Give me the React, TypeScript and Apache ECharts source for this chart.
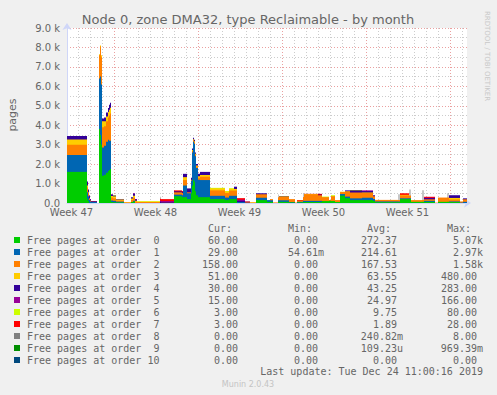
import React, { useEffect, useRef } from "react";
import * as echarts from "echarts";

// hours since the left edge of the graph (Thu Nov 21 03:00); each value holds until the next break
const hours = [0, 40, 42, 44, 46, 48, 60, 64, 66, 68, 70, 74, 78, 82, 84, 86, 88, 92, 98, 114, 128, 132, 136, 140, 186, 188, 214, 230, 232, 240, 248, 250, 252, 254, 256, 258, 262, 266, 286, 316, 324, 334, 340, 356, 366, 378, 400, 406, 412, 422, 424, 444, 456, 460, 472, 474, 502, 510, 524, 528, 536, 546, 556, 566, 590, 612, 616, 662, 666, 684, 688, 710, 714, 736, 742, 760, 764, 786, 792, 800];

const order0 = [1600, 200, 100, 0, 0, 0, 0, 3800, 3500, 3000, 1400, 1450, 1550, 1650, 1700, 1750, 50, 40, 30, 0, 50, 80, 0, 0, 0, 0, 350, 300, 300, 200, 500, 900, 1200, 1100, 600, 400, 300, 300, 200, 150, 200, 200, 0, 0, 0, 150, 60, 60, 0, 60, 60, 30, 0, 30, 50, 50, 50, 100, 120, 100, 50, 380, 250, 150, 150, 100, 40, 40, 200, 200, 60, 60, 60, 0, 60, 60, 50, 0, 0, 0];
const order1 = [870, 350, 250, 150, 80, 60, 0, 2600, 3000, 3100, 1450, 1500, 1600, 1600, 1500, 1450, 80, 70, 40, 0, 0, 40, 0, 0, 0, 0, 80, 100, 600, 300, 650, 1700, 1950, 1950, 1800, 1400, 900, 880, 170, 130, 170, 170, 50, 0, 0, 120, 90, 80, 0, 80, 80, 20, 0, 30, 60, 60, 60, 0, 0, 0, 0, 80, 80, 90, 120, 100, 40, 40, 40, 40, 0, 0, 50, 0, 0, 0, 30, 20, 60, 60];
const order2 = [520, 250, 150, 100, 50, 0, 0, 1200, 1550, 1400, 1050, 1000, 1050, 1150, 1300, 1400, 150, 130, 60, 30, 100, 150, 80, 50, 0, 10, 120, 120, 280, 50, 50, 80, 80, 80, 80, 80, 100, 170, 280, 230, 270, 270, 0, 30, 20, 180, 0, 60, 30, 150, 170, 150, 20, 60, 200, 320, 290, 200, 30, 250, 100, 100, 250, 300, 250, 150, 80, 80, 150, 150, 90, 90, 80, 20, 220, 220, 100, 60, 130, 130];
const order3 = [280, 100, 50, 0, 0, 0, 0, 50, 50, 100, 300, 250, 250, 280, 300, 300, 80, 100, 50, 10, 80, 100, 40, 20, 0, 0, 0, 0, 150, 0, 0, 50, 50, 50, 50, 50, 80, 90, 100, 80, 90, 80, 0, 0, 20, 0, 0, 0, 0, 0, 30, 0, 0, 0, 0, 20, 0, 0, 0, 0, 0, 20, 20, 0, 20, 0, 0, 0, 30, 0, 0, 0, 0, 0, 0, 0, 80, 0, 0, 0];
const order4 = [180, 200, 150, 100, 50, 20, 0, 0, 0, 0, 150, 200, 200, 200, 250, 250, 60, 40, 20, 0, 70, 100, 60, 0, 60, 40, 50, 50, 170, 200, 100, 70, 70, 70, 70, 70, 120, 160, 0, 0, 0, 120, 60, 30, 0, 50, 0, 0, 0, 0, 20, 0, 0, 0, 0, 0, 30, 0, 0, 0, 0, 0, 50, 110, 70, 50, 0, 0, 0, 0, 0, 0, 60, 0, 0, 0, 140, 0, 50, 50];
const order5 = [0, 0, 0, 50, 20, 0, 0, 0, 0, 0, 0, 0, 0, 0, 0, 0, 30, 0, 0, 0, 0, 30, 20, 0, 60, 50, 0, 0, 0, 0, 0, 0, 0, 0, 0, 0, 0, 0, 0, 0, 0, 0, 60, 0, 0, 0, 0, 0, 0, 0, 0, 0, 0, 0, 0, 0, 0, 0, 0, 0, 0, 0, 0, 0, 40, 0, 0, 0, 0, 0, 0, 0, 20, 0, 0, 0, 0, 0, 0, 0];
const order6 = [0, 0, 0, 0, 0, 0, 0, 0, 0, 0, 0, 0, 0, 0, 0, 0, 0, 20, 0, 0, 0, 0, 0, 20, 0, 0, 0, 0, 0, 0, 0, 0, 0, 0, 0, 0, 0, 0, 30, 30, 30, 0, 0, 0, 0, 0, 0, 0, 0, 0, 0, 0, 0, 0, 0, 0, 0, 30, 0, 50, 0, 0, 0, 20, 0, 0, 0, 0, 0, 0, 0, 0, 0, 0, 0, 0, 0, 0, 0, 0];
const order7 = [0, 0, 0, 0, 0, 20, 0, 0, 0, 0, 0, 0, 0, 0, 0, 0, 0, 0, 0, 0, 0, 0, 0, 0, 100, 100, 50, 50, 0, 0, 0, 0, 0, 0, 0, 0, 0, 0, 0, 0, 0, 0, 80, 20, 0, 0, 0, 0, 0, 0, 0, 0, 0, 30, 0, 20, 40, 0, 0, 0, 0, 0, 0, 0, 0, 0, 0, 0, 80, 0, 0, 0, 50, 0, 0, 0, 0, 0, 0, 0];
const order8 = [0, 0, 0, 0, 0, 0, 0, 0, 0, 0, 0, 0, 0, 0, 0, 0, 0, 0, 0, 0, 0, 0, 0, 0, 100, 0, 0, 0, 0, 0, 0, 0, 0, 0, 0, 0, 0, 0, 0, 0, 0, 0, 0, 0, 0, 0, 0, 0, 0, 150, 0, 0, 0, 0, 200, 0, 0, 0, 0, 0, 0, 0, 0, 0, 0, 0, 0, 290, 0, 310, 0, 500, 0, 0, 0, 220, 0, 0, 0, 0];
const order9 = [0, 0, 0, 0, 0, 0, 0, 0, 0, 0, 0, 0, 0, 0, 0, 0, 0, 0, 0, 0, 0, 0, 0, 0, 0, 0, 0, 0, 0, 0, 0, 0, 0, 0, 0, 0, 0, 0, 0, 0, 0, 0, 0, 0, 0, 0, 0, 0, 0, 0, 0, 0, 0, 0, 0, 0, 0, 0, 0, 0, 0, 0, 0, 0, 0, 0, 0, 0, 0, 0, 0, 0, 0, 0, 0, 0, 0, 0, 0, 0];
const order10 = [0, 0, 0, 0, 0, 0, 0, 0, 0, 0, 0, 0, 0, 0, 0, 0, 0, 0, 0, 0, 0, 0, 0, 0, 0, 0, 0, 0, 0, 0, 0, 0, 0, 0, 0, 0, 0, 0, 0, 0, 0, 0, 0, 0, 0, 0, 0, 0, 0, 0, 0, 0, 0, 0, 0, 0, 0, 0, 0, 0, 0, 0, 0, 0, 0, 0, 0, 0, 0, 0, 0, 0, 0, 0, 0, 0, 0, 0, 0, 0];

const seriesNames = [
  "Free pages at order  0",
  "Free pages at order  1",
  "Free pages at order  2",
  "Free pages at order  3",
  "Free pages at order  4",
  "Free pages at order  5",
  "Free pages at order  6",
  "Free pages at order  7",
  "Free pages at order  8",
  "Free pages at order  9",
  "Free pages at order 10",
];
const seriesColors = ["#00cc00", "#0066b3", "#ff8000", "#ffcc00", "#330099", "#990099", "#ccff00", "#ff0000", "#808080", "#008f00", "#00487d"];

const curValues = ["60.00", "29.00", "158.00", "51.00", "30.00", "15.00", "3.00", "3.00", "0.00", "0.00", "0.00"];
const minValues = ["0.00", "54.61m", "0.00", "0.00", "0.00", "0.00", "0.00", "0.00", "0.00", "0.00", "0.00"];
const avgValues = ["272.37", "214.61", "167.53", "63.55", "43.25", "24.97", "9.75", "1.89", "240.82m", "109.23u", "0.00"];
const maxValues = ["5.07k", "2.97k", "1.58k", "480.00", "283.00", "166.00", "80.00", "28.00", "8.00", "969.39m", "0.00"];

const weekLabels = ["Week 47", "Week 48", "Week 49", "Week 50", "Week 51"];

const TITLE = "Node 0, zone DMA32, type Reclaimable - by month";
const Y_NAME = "pages";
const LAST_UPDATE = "Last update: Tue Dec 24 11:00:16 2019";
const VERSION = "Munin 2.0.43";
const WATERMARK = "RRDTOOL / TOBI OETIKER";

const orders = [order0, order1, order2, order3, order4, order5, order6, order7, order8, order9, order10];

// running stack tops per series (order 0 at the bottom)
const stackTops: number[][] = [];
orders.forEach((vals, i) => {
  stackTops.push(vals.map((v, j) => v + (i > 0 ? stackTops[i - 1][j] : 0)));
});

// grid positions (hours from left edge): first midnight at 21h, first Monday at 93h
const dayLines: number[] = [];
for (let h = 21; h <= 800; h += 24) if ((h - 93) % 168 !== 0) dayLines.push(h);
const weekLines: number[] = [];
for (let h = 93; h <= 800; h += 168) weekLines.push(h);
const weekCenters = weekLines.map((h) => h - 84);

const TEXT = "#666666";
const MONO = '10px "DejaVu Sans Mono"';
const MINOR_GRID = "#cccccc";
const MAJOR_GRID = "#eaa0a0";
const Y_MAX = 9000;

function txt(text: string, x: number, y: number, font: string, fill: string, align: string, extra: any = {}) {
  return {
    type: "text",
    x,
    y,
    silent: true,
    ...extra,
    style: { text, font, fill, align, verticalAlign: "middle", textAlign: align, textVerticalAlign: "middle" },
  };
}

function legendGraphics() {
  const els: any[] = [];
  const hdr = [
    ["Cur:", 208],
    ["Min:", 288],
    ["Avg:", 367],
    ["Max:", 447],
  ] as const;
  hdr.forEach(([t, x]) => els.push(txt(t, x, 228, MONO, TEXT, "left")));
  const cols = [
    [curValues, 244],
    [minValues, 324],
    [avgValues, 403],
    [maxValues, 483],
  ] as const;
  seriesNames.forEach((name, i) => {
    const cy = 240 + i * 12;
    els.push({ type: "rect", silent: true, shape: { x: 14, y: cy - 3, width: 6, height: 6 }, style: { fill: seriesColors[i] } });
    els.push(txt(name, 27, cy, MONO, TEXT, "left"));
    cols.forEach(([arr, right]) => {
      const s = arr[i];
      const hasUnit = /[a-z]$/i.test(s);
      els.push(txt(s, hasUnit ? right : right - 6, cy, MONO, TEXT, "right"));
    });
  });
  els.push(txt(LAST_UPDATE, 483, 371, MONO, TEXT, "right"));
  els.push(txt(VERSION, 248, 384, '8px "DejaVu Sans"', "#c4c4c4", "center"));
  els.push(txt(TITLE, 248, 19, '13px "DejaVu Sans"', TEXT, "center"));
  els.push(txt(Y_NAME, 12, 115, '11px "DejaVu Sans"', TEXT, "center", { rotation: Math.PI / 2 }));
  els.push(txt(WATERMARK, 487, 56, '7px "DejaVu Sans"', "#c8c8c8", "center", { rotation: -Math.PI / 2 }));
  return els;
}

function vGridSeries(values: number[], color: string) {
  return {
    type: "custom",
    z: 1,
    silent: true,
    clip: true,
    data: values.map((h) => [h, 0]),
    encode: { x: 0, y: 1 },
    renderItem: (_params: any, api: any) => {
      const x = api.value(0);
      const p0 = api.coord([x, 0]);
      const p1 = api.coord([x, Y_MAX]);
      const px = Math.round(p0[0]) + 0.5;
      return {
        type: "line",
        shape: { x1: px, y1: p0[1], x2: px, y2: p1[1] },
        style: { stroke: color, lineWidth: 1, lineDash: [1, 2], fill: null },
      };
    },
  };
}

// each series is drawn as step columns from the axis to its stack top; higher orders sit underneath
function areaSeries(i: number) {
  const vals = orders[i];
  const tops = stackTops[i];
  const data = hours.slice(0, -1).map((h, j) => [h, hours[j + 1], tops[j], vals[j]]);
  return {
    type: "custom",
    name: seriesNames[i],
    z: 30 - i,
    silent: true,
    clip: true,
    color: seriesColors[i],
    encode: { x: [0, 1], y: 2 },
    data,
    renderItem: (_params: any, api: any) => {
      const v = api.value(3);
      if (!(v > 0)) return null;
      const p0 = api.coord([api.value(0), 0]);
      const p1 = api.coord([api.value(1), api.value(2)]);
      return {
        type: "rect",
        shape: { x: p0[0], y: p1[1], width: p1[0] - p0[0], height: p0[1] - p1[1] },
        style: { fill: seriesColors[i], opacity: i === 8 ? 0.45 : 1 },
      };
    },
  };
}

export default function App() {
  const ref = useRef<HTMLDivElement>(null);
  useEffect(() => {
    if (!ref.current) return;
    const chart = echarts.init(ref.current, null, { renderer: "svg" });
    chart.setOption({
      animation: false,
      backgroundColor: "#f0f0f0",
      grid: { left: 67, top: 28, width: 400, height: 175, show: true, backgroundColor: "#ffffff", borderWidth: 0 },
      xAxis: {
        type: "value",
        min: 0,
        max: 800,
        axisLine: { show: true, lineStyle: { color: "#cfd6f8", width: 1 }, symbol: ["none", "arrow"], symbolSize: [7, 7], symbolOffset: [0, 4] },
        axisTick: { show: false, customValues: weekCenters },
        axisLabel: {
          customValues: weekCenters,
          formatter: (v: number) => weekLabels[weekCenters.indexOf(Math.round(v))] ?? "",
          color: TEXT,
          fontSize: 10,
          fontFamily: "DejaVu Sans",
          margin: 4,
        },
        splitLine: { show: false },
      },
      yAxis: {
        type: "value",
        min: 0,
        max: Y_MAX,
        interval: 1000,
        axisLine: { show: true, lineStyle: { color: "#cfd6f8", width: 1 }, symbol: ["none", "arrow"], symbolSize: [7, 7], symbolOffset: [0, 5] },
        axisTick: { show: false },
        axisLabel: {
          formatter: (v: number) => (v === 0 ? "0.0" : (v / 1000).toFixed(1) + " k"),
          color: TEXT,
          fontSize: 10,
          fontFamily: "DejaVu Sans",
          margin: 7,
        },
        splitLine: { show: true, lineStyle: { color: MAJOR_GRID, type: [1, 2], width: 1 } },
        minorTick: { show: false, splitNumber: 2 },
        minorSplitLine: { show: true, lineStyle: { color: MINOR_GRID, type: [1, 2], width: 1 } },
      },
      series: [vGridSeries(dayLines, MINOR_GRID), vGridSeries(weekLines, MAJOR_GRID), ...orders.map((_v, i) => areaSeries(i))],
      graphic: legendGraphics(),
    });
    return () => chart.dispose();
  }, []);
  return <div ref={ref} style={{ position: "fixed", left: 0, top: 0, width: 497, height: 395 }} />;
}
